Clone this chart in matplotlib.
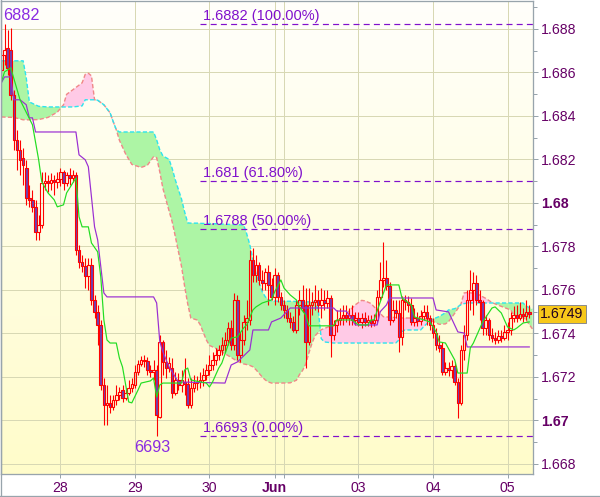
import numpy as np
import matplotlib
matplotlib.use("Agg")
import matplotlib.pyplot as plt
from matplotlib.colors import LinearSegmentedColormap
from matplotlib.lines import Line2D
from matplotlib.patches import Rectangle

plt.rcParams["font.family"] = ["Liberation Sans", "DejaVu Sans"]

# hourly bars, 27 May - 5 Jun (index = bar number)
bar_open = [
    1.68611, 1.68680, 1.68712, 1.68703, 1.68496, 1.68289, 1.68243, 1.68207, 1.68161, 1.68023,
    1.68013, 1.67981, 1.67866, 1.67898, 1.68092, 1.68101, 1.68092, 1.68105, 1.68096, 1.68110,
    1.68142, 1.68092, 1.68128, 1.68115, 1.68128, 1.67784, 1.67729, 1.67710, 1.67664, 1.67715,
    1.67554, 1.67499, 1.67439, 1.67163, 1.67071, 1.67080, 1.67062, 1.67094, 1.67117, 1.67140,
    1.67103, 1.67126, 1.67149, 1.67163, 1.67223, 1.67260, 1.67278, 1.67273, 1.67232, 1.67223,
    1.67232, 1.67016, 1.67361, 1.67269, 1.67241, 1.67241, 1.67126, 1.67186, 1.67163, 1.67177,
    1.67167, 1.67071, 1.67149, 1.67172, 1.67177, 1.67186, 1.67209, 1.67232, 1.67255, 1.67278,
    1.67301, 1.67324, 1.67347, 1.67370, 1.67425, 1.67347, 1.67554, 1.67301, 1.67370, 1.67453,
    1.67462, 1.67738, 1.67669, 1.67715, 1.67646, 1.67632, 1.67682, 1.67623, 1.67568, 1.67669,
    1.67568, 1.67531, 1.67508, 1.67471, 1.67453, 1.67416, 1.67531, 1.67554, 1.67531, 1.67361,
    1.67531, 1.67545, 1.67554, 1.67531, 1.67554, 1.67540, 1.67563, 1.67393, 1.67439, 1.67462,
    1.67471, 1.67485, 1.67471, 1.67485, 1.67462, 1.67471, 1.67453, 1.67471, 1.67453, 1.67462,
    1.67448, 1.67462, 1.67568, 1.67646, 1.67655, 1.67618, 1.67462, 1.67508, 1.67494, 1.67384,
    1.67554, 1.67545, 1.67531, 1.67453, 1.67471, 1.67457, 1.67480, 1.67499, 1.67471, 1.67439,
    1.67402, 1.67347, 1.67333, 1.67223, 1.67241, 1.67232, 1.67250, 1.67177, 1.67080, 1.67324,
    1.67393, 1.67554, 1.67600, 1.67632, 1.67554, 1.67545, 1.67425, 1.67462, 1.67393, 1.67379,
    1.67370, 1.67388, 1.67379, 1.67407, 1.67416, 1.67471, 1.67485, 1.67471, 1.67489, 1.67480,
    1.67499,
]
bar_high = [
    1.68749, 1.68820, 1.68795, 1.68804, 1.68519, 1.68335, 1.68289, 1.68253, 1.68197, 1.68082,
    1.68059, 1.68013, 1.67944, 1.68142, 1.68142, 1.68128, 1.68138, 1.68128, 1.68142, 1.68161,
    1.68151, 1.68142, 1.68161, 1.68151, 1.68142, 1.67807, 1.67761, 1.67747, 1.67747, 1.67747,
    1.67577, 1.67531, 1.67462, 1.67195, 1.67163, 1.67117, 1.67117, 1.67163, 1.67154, 1.67163,
    1.67149, 1.67186, 1.67195, 1.67255, 1.67278, 1.67296, 1.67301, 1.67292, 1.67255, 1.67278,
    1.67255, 1.67393, 1.67370, 1.67324, 1.67292, 1.67287, 1.67223, 1.67218, 1.67232, 1.67287,
    1.67195, 1.67195, 1.67209, 1.67204, 1.67223, 1.67241, 1.67260, 1.67301, 1.67315, 1.67333,
    1.67347, 1.67384, 1.67407, 1.67453, 1.67462, 1.67586, 1.67577, 1.67407, 1.67485, 1.67554,
    1.67784, 1.67793, 1.67761, 1.67729, 1.67692, 1.67701, 1.67715, 1.67655, 1.67701, 1.67682,
    1.67590, 1.67554, 1.67531, 1.67499, 1.67480, 1.67554, 1.67600, 1.67623, 1.67609, 1.67609,
    1.67590, 1.67623, 1.67600, 1.67609, 1.67600, 1.67600, 1.67577, 1.67462, 1.67508, 1.67517,
    1.67531, 1.67531, 1.67517, 1.67531, 1.67499, 1.67499, 1.67494, 1.67499, 1.67485, 1.67485,
    1.67489, 1.67600, 1.67729, 1.67820, 1.67738, 1.67636, 1.67554, 1.67554, 1.67554, 1.67572,
    1.67577, 1.67572, 1.67563, 1.67517, 1.67499, 1.67508, 1.67531, 1.67531, 1.67485, 1.67471,
    1.67425, 1.67393, 1.67361, 1.67269, 1.67269, 1.67278, 1.67269, 1.67195, 1.67347, 1.67439,
    1.67600, 1.67692, 1.67682, 1.67669, 1.67600, 1.67554, 1.67485, 1.67471, 1.67425, 1.67407,
    1.67416, 1.67416, 1.67439, 1.67453, 1.67499, 1.67526, 1.67531, 1.67545, 1.67517, 1.67554,
    1.67531,
]
bar_low = [
    1.68588, 1.68634, 1.68588, 1.68473, 1.68243, 1.68151, 1.68128, 1.68082, 1.67990, 1.67981,
    1.67958, 1.67829, 1.67829, 1.67885, 1.68059, 1.68050, 1.68059, 1.68036, 1.68069, 1.68078,
    1.68059, 1.68078, 1.68082, 1.68096, 1.67761, 1.67701, 1.67682, 1.67609, 1.67600, 1.67531,
    1.67471, 1.67347, 1.67140, 1.66979, 1.66979, 1.67034, 1.67048, 1.67071, 1.67094, 1.67085,
    1.67094, 1.67117, 1.67131, 1.67149, 1.67209, 1.67250, 1.67246, 1.67209, 1.67200, 1.67186,
    1.66930, 1.67011, 1.67209, 1.67195, 1.67223, 1.67103, 1.67117, 1.67140, 1.67131, 1.67117,
    1.67057, 1.67057, 1.67131, 1.67140, 1.67149, 1.67158, 1.67186, 1.67209, 1.67232, 1.67255,
    1.67278, 1.67301, 1.67315, 1.67347, 1.67324, 1.67324, 1.67278, 1.67269, 1.67347, 1.67416,
    1.67439, 1.67636, 1.67636, 1.67623, 1.67600, 1.67600, 1.67531, 1.67554, 1.67531, 1.67545,
    1.67508, 1.67471, 1.67453, 1.67425, 1.67407, 1.67402, 1.67485, 1.67499, 1.67241, 1.67347,
    1.67485, 1.67508, 1.67499, 1.67471, 1.67508, 1.67517, 1.67292, 1.67370, 1.67407, 1.67439,
    1.67439, 1.67453, 1.67439, 1.67439, 1.67439, 1.67434, 1.67425, 1.67434, 1.67434, 1.67430,
    1.67434, 1.67453, 1.67554, 1.67613, 1.67600, 1.67439, 1.67453, 1.67471, 1.67315, 1.67347,
    1.67508, 1.67499, 1.67439, 1.67434, 1.67434, 1.67439, 1.67462, 1.67439, 1.67416, 1.67379,
    1.67324, 1.67315, 1.67209, 1.67209, 1.67204, 1.67195, 1.67163, 1.67011, 1.67071, 1.67278,
    1.67370, 1.67508, 1.67485, 1.67531, 1.67462, 1.67393, 1.67393, 1.67370, 1.67361, 1.67352,
    1.67356, 1.67361, 1.67370, 1.67370, 1.67393, 1.67453, 1.67453, 1.67462, 1.67453, 1.67462,
    1.67471,
]
bar_close = [
    1.68680, 1.68703, 1.68620, 1.68496, 1.68289, 1.68243, 1.68197, 1.68174, 1.68023, 1.68013,
    1.67981, 1.67866, 1.67898, 1.68092, 1.68101, 1.68092, 1.68105, 1.68096, 1.68110, 1.68142,
    1.68092, 1.68128, 1.68115, 1.68128, 1.67784, 1.67729, 1.67710, 1.67664, 1.67715, 1.67554,
    1.67499, 1.67439, 1.67163, 1.67071, 1.67080, 1.67062, 1.67094, 1.67117, 1.67131, 1.67103,
    1.67126, 1.67149, 1.67167, 1.67223, 1.67260, 1.67278, 1.67273, 1.67232, 1.67223, 1.67232,
    1.67025, 1.67361, 1.67269, 1.67241, 1.67264, 1.67126, 1.67186, 1.67163, 1.67186, 1.67167,
    1.67071, 1.67149, 1.67172, 1.67177, 1.67186, 1.67209, 1.67232, 1.67255, 1.67278, 1.67301,
    1.67324, 1.67347, 1.67370, 1.67425, 1.67347, 1.67554, 1.67301, 1.67370, 1.67453, 1.67471,
    1.67738, 1.67669, 1.67715, 1.67646, 1.67632, 1.67682, 1.67623, 1.67568, 1.67669, 1.67568,
    1.67531, 1.67508, 1.67471, 1.67453, 1.67416, 1.67531, 1.67554, 1.67517, 1.67361, 1.67531,
    1.67545, 1.67554, 1.67531, 1.67554, 1.67540, 1.67563, 1.67393, 1.67439, 1.67462, 1.67471,
    1.67485, 1.67471, 1.67485, 1.67462, 1.67471, 1.67453, 1.67471, 1.67453, 1.67462, 1.67448,
    1.67462, 1.67568, 1.67646, 1.67655, 1.67618, 1.67462, 1.67508, 1.67494, 1.67384, 1.67554,
    1.67545, 1.67531, 1.67453, 1.67471, 1.67457, 1.67480, 1.67499, 1.67471, 1.67439, 1.67402,
    1.67347, 1.67333, 1.67223, 1.67241, 1.67232, 1.67250, 1.67177, 1.67080, 1.67324, 1.67393,
    1.67554, 1.67600, 1.67632, 1.67554, 1.67545, 1.67425, 1.67462, 1.67393, 1.67379, 1.67370,
    1.67388, 1.67379, 1.67407, 1.67416, 1.67471, 1.67485, 1.67471, 1.67489, 1.67480, 1.67499,
    1.67490,
]

# day boundaries on the bar axis ("02" has a grid line but no label)
day_ticks = [19, 43, 67, 88, 91, 115, 139, 163]
day_labels = ["28", "29", "30", "Jun", "", "03", "04", "05"]

# ichimoku cloud, senkou span A / B
cloud_x = [0, 4, 7, 8, 9, 12, 15, 18, 20, 21, 23, 26, 27, 28, 29, 30, 31, 33, 35, 36,
           37, 38, 40, 42, 45, 47, 49, 50, 51, 52, 54, 55, 56, 58, 59, 60, 61, 63, 64, 66,
           67, 69, 72, 76, 78, 79, 80, 81, 82, 84, 85, 86, 87, 90, 93, 95, 96, 97, 98, 99,
           100, 101, 102, 103, 104, 107, 111, 114, 116, 117, 119, 123, 127, 128, 129, 130,
           135, 138, 141, 143, 144, 146, 148, 149, 150, 153, 156, 158, 160, 164, 165, 168,
           169, 171]
span_a = [1.68653, 1.68653, 1.68653, 1.68575, 1.68464, 1.68444, 1.68441, 1.68441, 1.68441, 1.68441,
          1.68441, 1.68446, 1.68474, 1.68474, 1.68474, 1.68474, 1.68472, 1.68451, 1.68414, 1.68374,
          1.68336, 1.68326, 1.68326, 1.68326, 1.68326, 1.68326, 1.68326, 1.68290, 1.68244, 1.68216,
          1.68200, 1.68158, 1.68106, 1.68018, 1.67959, 1.67908, 1.67907, 1.67907, 1.67906, 1.67905,
          1.67905, 1.67904, 1.67902, 1.67900, 1.67899, 1.67858, 1.67808, 1.67738, 1.67674, 1.67592,
          1.67568, 1.67556, 1.67549, 1.67548, 1.67548, 1.67547, 1.67547, 1.67546, 1.67546, 1.67545,
          1.67545, 1.67545, 1.67513, 1.67376, 1.67361, 1.67356, 1.67356, 1.67356, 1.67356, 1.67356,
          1.67356, 1.67356, 1.67356, 1.67370, 1.67409, 1.67416, 1.67416, 1.67460, 1.67478, 1.67495,
          1.67508, 1.67514, 1.67532, 1.67537, 1.67540, 1.67540, 1.67540, 1.67540, 1.67540, 1.67540,
          1.67540, 1.67540, 1.67526, 1.67511]
span_b = [1.68395, 1.68393, 1.68382, 1.68382, 1.68382, 1.68383, 1.68393, 1.68417, 1.68451, 1.68499,
          1.68520, 1.68552, 1.68591, 1.68596, 1.68584, 1.68474, 1.68472, 1.68451, 1.68414, 1.68374,
          1.68336, 1.68288, 1.68225, 1.68177, 1.68163, 1.68173, 1.68212, 1.68208, 1.68143, 1.68067,
          1.67963, 1.67913, 1.67846, 1.67708, 1.67617, 1.67536, 1.67471, 1.67462, 1.67441, 1.67370,
          1.67345, 1.67332, 1.67307, 1.67272, 1.67260, 1.67257, 1.67253, 1.67247, 1.67233, 1.67200,
          1.67186, 1.67177, 1.67172, 1.67172, 1.67173, 1.67185, 1.67211, 1.67230, 1.67259, 1.67309,
          1.67354, 1.67389, 1.67404, 1.67417, 1.67423, 1.67440, 1.67489, 1.67532, 1.67552, 1.67550,
          1.67538, 1.67477, 1.67473, 1.67472, 1.67471, 1.67471, 1.67471, 1.67462, 1.67442, 1.67444,
          1.67454, 1.67493, 1.67536, 1.67586, 1.67588, 1.67584, 1.67561, 1.67542, 1.67530, 1.67508,
          1.67485, 1.67472, 1.67461, 1.67421]

# tenkan-sen (green) and kijun-sen (purple)
tenkan_x = [0, 1, 3, 6, 10, 12, 13, 15, 17, 18, 20, 21, 24, 25, 26, 28, 29, 31, 32, 33,
            34, 35, 37, 38, 39, 41, 42, 44, 45, 48, 49, 50, 51, 52, 58, 59, 60, 61, 66, 67,
            68, 70, 71, 73, 74, 76, 78, 79, 81, 82, 84, 87, 88, 90, 91, 93, 95, 96, 98, 99,
            107, 108, 113, 115, 118, 119, 120, 122, 124, 128, 129, 132, 133, 138, 140, 141,
            143, 146, 147, 150, 151, 152, 155, 158, 159, 161, 163, 165, 166, 168, 170]
tenkan = [1.68556, 1.68602, 1.68621, 1.68474, 1.68359, 1.68198, 1.68097, 1.68046, 1.68014, 1.67982,
          1.67991, 1.68046, 1.68115, 1.67936, 1.67890, 1.67890, 1.67816, 1.67775, 1.67660, 1.67462,
          1.67370, 1.67356, 1.67356, 1.67287, 1.67246, 1.67085, 1.67081, 1.67140, 1.67172, 1.67182,
          1.67195, 1.67108, 1.67163, 1.67172, 1.67172, 1.67232, 1.67241, 1.67186, 1.67172, 1.67154,
          1.67177, 1.67241, 1.67264, 1.67347, 1.67379, 1.67384, 1.67425, 1.67439, 1.67508, 1.67522,
          1.67540, 1.67554, 1.67591, 1.67646, 1.67609, 1.67577, 1.67554, 1.67522, 1.67485, 1.67435,
          1.67435, 1.67462, 1.67462, 1.67439, 1.67439, 1.67462, 1.67462, 1.67545, 1.67623, 1.67623,
          1.67563, 1.67531, 1.67476, 1.67453, 1.67407, 1.67361, 1.67356, 1.67278, 1.67218, 1.67218,
          1.67333, 1.67356, 1.67453, 1.67517, 1.67522, 1.67494, 1.67430, 1.67416, 1.67425, 1.67448,
          1.67453]
kijun_x = [0, 1, 3, 4, 6, 8, 9, 10, 11, 24, 25, 27, 28, 30, 31, 33, 34, 49, 50, 51,
           52, 54, 57, 72, 74, 76, 80, 81, 86, 87, 90, 93, 107, 108, 111, 112, 113, 114, 121,
           122, 124, 125, 139, 140, 144, 147, 149, 150, 170]
kijun = [1.68552, 1.68579, 1.68579, 1.68474, 1.68474, 1.68451, 1.68391, 1.68391, 1.68326, 1.68326,
         1.68221, 1.68198, 1.68166, 1.67890, 1.67830, 1.67586, 1.67568, 1.67568, 1.67540, 1.67363,
         1.67315, 1.67246, 1.67177, 1.67172, 1.67255, 1.67269, 1.67324, 1.67416, 1.67416, 1.67453,
         1.67471, 1.67517, 1.67517, 1.67503, 1.67503, 1.67485, 1.67462, 1.67439, 1.67439, 1.67500,
         1.67531, 1.67563, 1.67563, 1.67508, 1.67499, 1.67407, 1.67402, 1.67338, 1.67338]

# fibonacci retracement between the swing high and low
fib_levels = [1.6882, 1.6810, 1.6788, 1.6693]
fib_pcts = [100.0, 61.8, 50.0, 0.0]
fib_start = 64

price_ticks = [1.668, 1.670, 1.672, 1.674, 1.676, 1.678, 1.680, 1.682, 1.684, 1.686, 1.688]
price_minor = [1.669, 1.671, 1.673, 1.675, 1.677, 1.679, 1.681, 1.683, 1.685, 1.687, 1.689]

# --- styling -------------------------------------------------------------
W, H = 600, 497
PX = 0.72                      # one pixel in points at dpi 100
XMIN, XMAX = -0.13, 171.2
YMIN, YMAX = 1.66754, 1.68928
FRAME = "#98a4ac"
GRID = "#d8d8b4"
TXT = "#660066"
FIB = "#8010cc"
RED = "#ff0000"
BEAR = "#7040b0"

fig = plt.figure(figsize=(W / 100, H / 100), dpi=100)
ax = fig.add_axes([1 / W, 23 / H, 532 / W, 473 / H])

bg = LinearSegmentedColormap.from_list("bg", ["#fffffb", "#fffcca"])
ax.imshow(np.linspace(0, 1, 256).reshape(-1, 1), extent=(0, 1, 0, 1), transform=ax.transAxes,
          cmap=bg, aspect="auto", origin="upper", zorder=0)

for t in day_ticks:
    ax.axvline(t, color=GRID, lw=PX, zorder=0.5)
for p in price_ticks:
    ax.axhline(p, color=GRID, lw=PX, zorder=0.5)

# cloud
cx, a, b = np.asarray(cloud_x), np.asarray(span_a), np.asarray(span_b)
ax.fill_between(cx, a, b, where=a > b, interpolate=True, color="#adf5a5", lw=0, zorder=1)
ax.fill_between(cx, a, b, where=a < b, interpolate=True, color="#ffcae6", lw=0, zorder=1)
ax.plot(cx, b, color="#f08888", lw=1.4 * PX, ls=(0, (3, 1.6)), zorder=1.5)
ax.plot(cx, a, color="#2ee4ee", lw=1.4 * PX, ls=(0, (3, 1.6)), zorder=1.6)

# fib levels
for lvl, pct in zip(fib_levels, fib_pcts):
    ax.hlines(lvl, fib_start, XMAX, color=FIB, lw=1.2 * PX, linestyles=(0, (5, 3.5)), zorder=2)
    ax.annotate(f"{lvl:g} ({pct:.2f}%)", (fib_start, lvl), xytext=(3, 1),
                textcoords="offset pixels", ha="left", va="bottom", fontsize=10.5,
                color=FIB, zorder=2)

# candles
for i, (o, h, l, c) in enumerate(zip(bar_open, bar_high, bar_low, bar_close)):
    top, bot = max(o, c), min(o, c)
    ax.vlines(i, top, h, color=RED, lw=1.1 * PX, zorder=3)
    ax.vlines(i, l, bot, color=RED, lw=1.1 * PX, zorder=3)
    ax.add_patch(Rectangle((i - 0.42, bot), 0.84, max(top - bot, 0.00001),
                           fc=BEAR if c < o else "none", ec=RED, lw=1.1 * PX, zorder=3))

ax.plot(kijun_x, kijun, color="#9a2ed2", lw=1.2 * PX, zorder=4)
ax.plot(tenkan_x, tenkan, color="#22dd22", lw=1.2 * PX, zorder=4)

# swing high / low markers
hi = int(np.argmax(bar_high))
lo = int(np.argmin(bar_low))
ax.annotate(f"{bar_high[hi]:.4f}"[-4:], (hi, bar_high[hi]), xytext=(-1, 9),
            textcoords="offset pixels", ha="left", va="center", fontsize=11.7, color="#8a2be2", zorder=5)
ax.annotate(f"{bar_low[lo]:.4f}"[-4:], (lo, bar_low[lo]), xytext=(-4, -12),
            textcoords="offset pixels", ha="center", va="center", fontsize=11.7, color="#8a2be2", zorder=5)

ax.set_xlim(XMIN, XMAX)
ax.set_ylim(YMIN, YMAX)

# axes
ax.yaxis.tick_right()
ax.set_yticks(price_ticks)
ax.set_yticks(price_minor, minor=True)
ylabels = [f"{p:.3f}".rstrip("0") for p in price_ticks]
ax.set_yticklabels(ylabels)
for t, lab in zip(ax.get_yticklabels(), ylabels):
    if len(lab) == 4:
        t.set_fontweight("bold")
ax.tick_params(axis="y", which="both", direction="out", color=FRAME, width=PX,
               labelcolor=TXT, labelsize=10.2, pad=2.2)
ax.tick_params(axis="y", which="major", length=5 * PX)
ax.tick_params(axis="y", which="minor", length=4 * PX)

ax.set_xticks(day_ticks)
ax.set_xticklabels(day_labels)
for t, lab in zip(ax.get_xticklabels(), day_labels):
    if lab.isalpha():
        t.set_fontweight("bold")
ax.tick_params(axis="x", direction="out", length=4 * PX, width=PX, color=FRAME,
               labelcolor=TXT, labelsize=10.2, pad=2.5)

for s in ax.spines.values():
    s.set_color(FRAME)
    s.set_linewidth(1.3 * PX)

# last price tag
last = bar_close[-1]
ax.annotate(f"{last:.4f}", xy=(1, last), xycoords=("axes fraction", "data"), xytext=(7, 0),
            textcoords="offset pixels", ha="left", va="center", fontsize=10.2, color="#200020",
            bbox=dict(boxstyle="square,pad=0.16", fc="#f7c81a", ec="#8c8c8c", lw=PX),
            annotation_clip=False, zorder=6)

fig.add_artist(Line2D([0.5 / W, 0.5 / W], [0, 1], color=FRAME, lw=1.3 * PX, transform=fig.transFigure))
fig.add_artist(Line2D([0, 1], [0.7 / H, 0.7 / H], color=FRAME, lw=1.3 * PX, transform=fig.transFigure))

fig.savefig("out.png", dpi=100)
plt.close(fig)
